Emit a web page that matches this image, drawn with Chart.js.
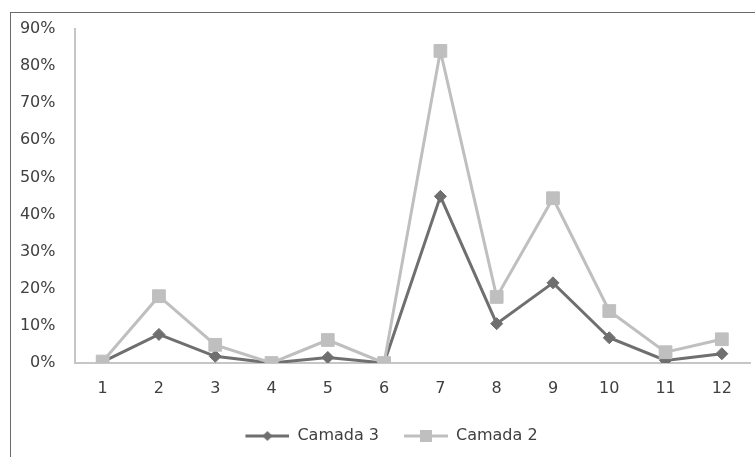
<!DOCTYPE html>
<html>
<head>
<meta charset="utf-8">
<script src="https://cdn.jsdelivr.net/npm/chart.js@4.4.1/dist/chart.umd.min.js"></script>
<style>
    html, body { margin: 0; padding: 0; background: #fff; }
    #wrap { position: relative; width: 755px; height: 457px; overflow: hidden; }
    #frame {
        position: absolute; left: 10px; top: 12px; width: 760px; height: 460px;
        border-left: 1px solid #6a6a6a; border-top: 1px solid #6a6a6a;
    }
    #chart { position: absolute; left: 0; top: 0; }
</style>
</head>
<body>
<div id="wrap">
    <div id="frame"></div>
    <canvas id="chart" width="755" height="457"></canvas>
</div>
<script>
// values (percent)
const categories = ["1", "2", "3", "4", "5", "6", "7", "8", "9", "10", "11", "12"];
const camada3 = [0.3, 7.7, 1.8, 0, 1.5, 0, 44.9, 10.6, 21.6, 6.8, 0.7, 2.5];
const camada2 = [0.4, 18.0, 4.9, 0, 6.2, 0, 84.1, 17.8, 44.4, 14.0, 2.9, 6.4];
const yTicks = [0, 10, 20, 30, 40, 50, 60, 70, 80, 90];

const darkGray = "#6f6f6f";
const lightGray = "#bfbfbf";
const textColor = "#404040";
const fontFamily = "'DejaVu Sans', sans-serif";

// legend icon: short line with the marker in the middle
function legendIcon(color, marker) {
    const c = document.createElement("canvas");
    c.width = 57;
    c.height = 14;
    const g = c.getContext("2d");
    g.strokeStyle = color;
    g.lineWidth = 3;
    g.beginPath();
    g.moveTo(13, 7);
    g.lineTo(57, 7);
    g.stroke();
    g.fillStyle = color;
    if (marker === "diamond") {
        g.beginPath();
        g.moveTo(35, 2);
        g.lineTo(40, 7);
        g.lineTo(35, 12);
        g.lineTo(30, 7);
        g.closePath();
        g.fill();
    } else {
        g.fillRect(29, 1, 12, 12);
    }
    return c;
}

const icons = [legendIcon(darkGray, "diamond"), legendIcon(lightGray, "square")];

const ctx = document.getElementById("chart").getContext("2d");
new Chart(ctx, {
    type: "line",
    data: {
        labels: categories,
        datasets: [
            {
                label: "Camada 3",
                data: camada3,
                borderColor: darkGray,
                backgroundColor: darkGray,
                borderWidth: 3,
                pointStyle: "rectRot",
                pointRadius: 6,
                pointBorderWidth: 1,
                tension: 0,
                order: 1,
            },
            {
                label: "Camada 2",
                data: camada2,
                borderColor: lightGray,
                backgroundColor: lightGray,
                borderWidth: 3,
                pointStyle: "rect",
                pointRadius: 9,
                pointBorderWidth: 1,
                tension: 0,
                order: 0,
            },
        ],
    },
    options: {
        responsive: false,
        animation: false,
        layout: {
            autoPadding: false,
            padding: { left: 20, right: 5, top: 29, bottom: 3 },
        },
        plugins: {
            tooltip: { enabled: false },
            legend: {
                position: "bottom",
                labels: {
                    usePointStyle: true,
                    pointStyleWidth: 57,
                    padding: 12,
                    color: textColor,
                    font: { family: fontFamily, size: 16 },
                    generateLabels: (chart) =>
                        chart.data.datasets.map((ds, i) => ({
                            text: ds.label,
                            datasetIndex: i,
                            pointStyle: icons[i],
                            fillStyle: ds.borderColor,
                            strokeStyle: ds.borderColor,
                            lineWidth: 0,
                            fontColor: textColor,
                            hidden: false,
                        })),
                },
            },
        },
        scales: {
            x: {
                offset: true,
                grid: { display: false, drawTicks: false },
                border: { display: true, color: "#c6c6c6", width: 2 },
                ticks: {
                    padding: 16,
                    color: textColor,
                    font: { family: fontFamily, size: 16 },
                    maxRotation: 0,
                },
                afterFit: (scale) => {
                    scale.height = 53;
                },
            },
            y: {
                min: 0,
                max: 90,
                grid: { display: false, drawTicks: false },
                border: { display: true, color: "#c6c6c6", width: 2 },
                afterBuildTicks: (scale) => {
                    scale.ticks = yTicks.map((v) => ({ value: v }));
                },
                ticks: {
                    padding: 19,
                    color: textColor,
                    font: { family: fontFamily, size: 16 },
                    callback: (value) => value + "%",
                },
                afterFit: (scale) => {
                    scale.width = 54.5;
                },
            },
        },
    },
});
</script>
</body>
</html>
